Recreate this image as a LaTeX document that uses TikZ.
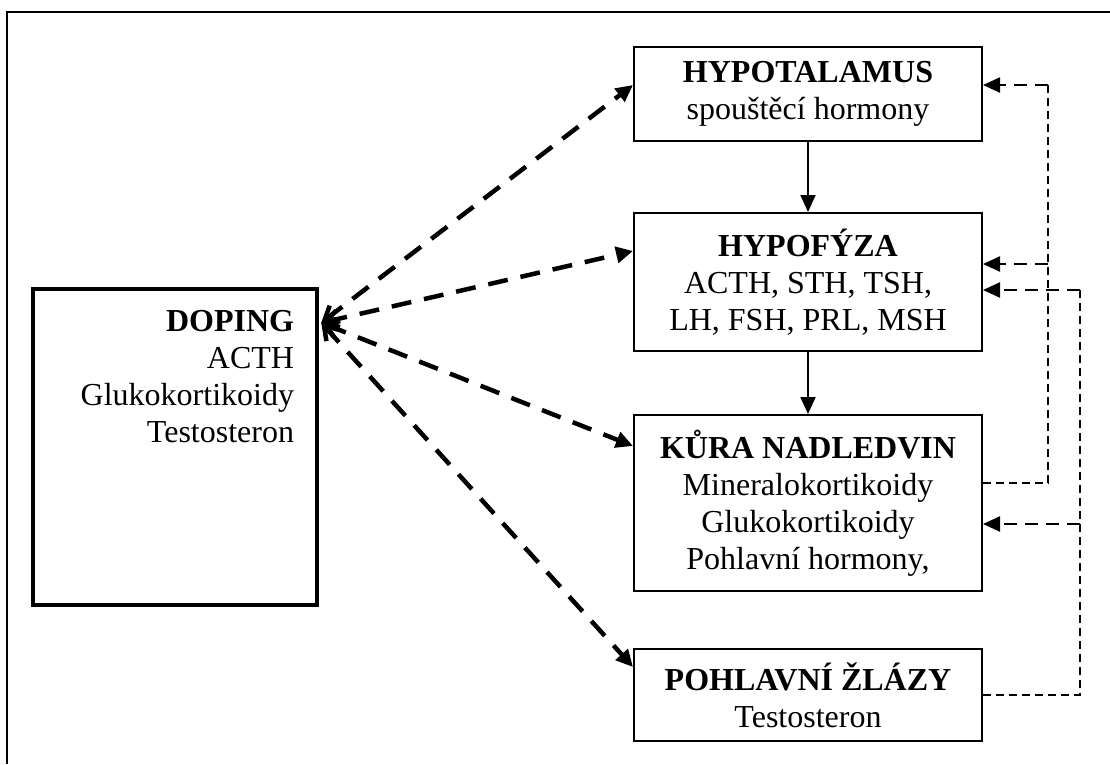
\documentclass[tikz,border=0pt]{standalone}
\usepackage{fontspec}
\setmainfont{Liberation Serif}
\usetikzlibrary{arrows.meta,calc}

\begin{document}
\begin{tikzpicture}[x=1pt, y=-1pt,
              every node/.style = {align=center, inner sep=0pt, font=\fontsize{32}{37}\selectfont},
              organ/.style = {draw, line width=2pt, minimum width=348pt},
              dosing/.style = {line width=4.5pt, dash pattern=on 20pt off 13pt,
                {Straight Barb[length=13pt,width=17pt]}-{Triangle[length=17pt,width=16pt]}},
              control/.style = {line width=1.8pt, -{Triangle[length=17pt,width=15pt]}},
              feedback/.style = {line width=1.3pt, dash pattern=on 8pt off 5pt},
              feedarrow/.style = {line width=2.4pt, dash pattern=on 13pt off 8pt, -{Triangle[length=17pt,width=15pt]}}]
  \useasboundingbox (0,0) rectangle (1110,764);
  \draw[line width=1.5pt] (7,764) -- (7,12) -- (1110,12);

  \node[organ, minimum height=94pt] (hypotalamus) at (808,94)
    {\textbf{HYPOTALAMUS}\\spouštěcí hormony};
  \node[organ, minimum height=138pt] (hypofyza) at (808,282)
    {\textbf{HYPOFÝZA}\\ACTH, STH, TSH,\\LH, FSH, PRL, MSH};
  \node[organ, minimum height=176pt] (kura) at (808,503)
    {\textbf{KŮRA NADLEDVIN}\\Mineralokortikoidy\\Glukokortikoidy\\Pohlavní hormony,};
  \node[organ, minimum height=92pt] (zlazy) at (808,695)
    {\textbf{POHLAVNÍ ŽLÁZY}\\Testosteron};
  \node[draw, line width=4.5pt, minimum width=284pt, minimum height=316pt] (doping) at (175,447) {};
  \node[anchor=north east, align=right] (dopingtext) at ($(doping.north east)+(-25,23)$)
    {\textbf{DOPING}\\ACTH\\Glukokortikoidy\\Testosteron};

  % vertical chain
  \draw[control] (hypotalamus) -- (hypofyza);
  \draw[control] (hypofyza) -- (kura);

  % doping links
  \coordinate (port) at ($(doping.north east)+(2,36)$);
  \draw[dosing] (port) -- ($(hypotalamus.north west)+(0,39)$);
  \draw[dosing] (port) -- ($(hypofyza.north west)+(0,39)$);
  \draw[dosing] (port) -- ($(kura.north west)+(0,32)$);
  \draw[dosing] (port) -- ($(zlazy.north west)+(0,19)$);

  % feedback loops
  \coordinate (colA) at (1048,0);
  \coordinate (colB) at (1080,0);
  \coordinate (ha) at ($(hypotalamus.north east)+(0,39)$);
  \coordinate (fa) at ($(hypofyza.north east)+(0,52)$);
  \coordinate (fb) at ($(hypofyza.north east)+(0,78)$);
  \coordinate (ka) at ($(kura.north east)+(0,69)$);
  \coordinate (kb) at ($(kura.north east)+(0,110)$);
  \coordinate (za) at ($(zlazy.north east)+(0,47)$);
  \draw[feedback] (ka) -- (ka -| colA) -- (ha -| colA);
  \draw[feedarrow] (ha -| colA) -- (ha);
  \draw[feedarrow] (fa -| colA) -- (fa);
  \draw[feedback] (za) -- (za -| colB) -- (fb -| colB);
  \draw[feedarrow] (fb -| colB) -- (fb);
  \draw[feedarrow] (kb -| colB) -- (kb);
\end{tikzpicture}
\end{document}
